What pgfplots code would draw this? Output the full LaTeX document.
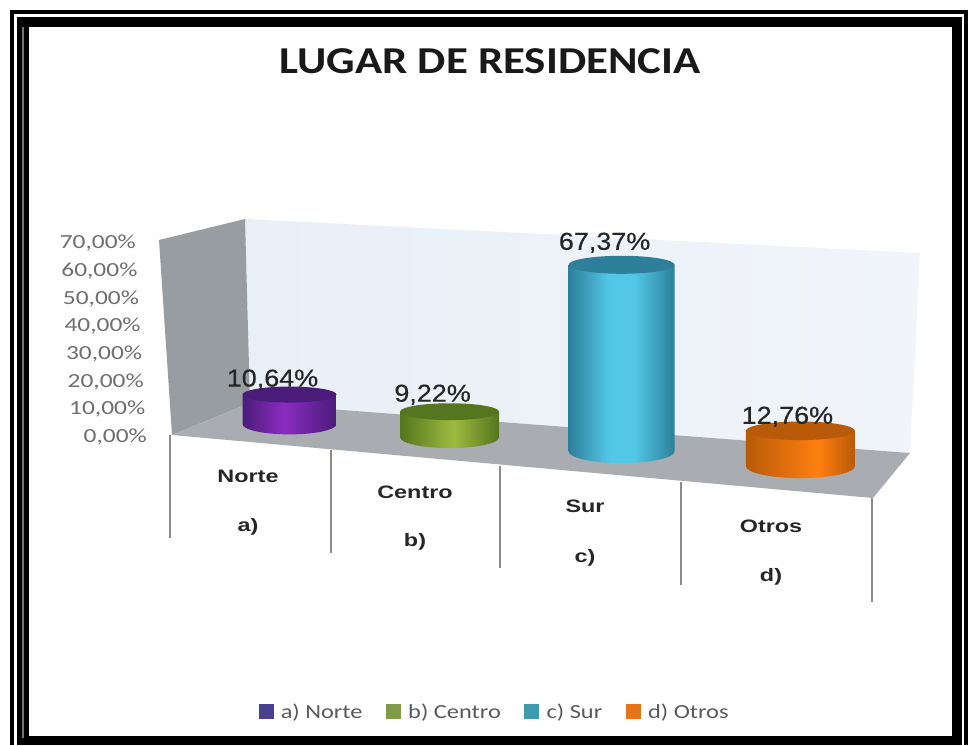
\documentclass[border=0pt]{standalone}
\usepackage{pgfplots}
\pgfplotsset{compat=1.18}
\usepackage{fontspec}
\setmainfont{Liberation Sans}
\newfontfamily\titlefont[FakeStretch=1.18]{Carlito}
\newfontfamily\tickfont[FakeStretch=1.27]{Carlito}
\newfontfamily\legfont[FakeStretch=1.22]{Carlito}
\newfontfamily\catfont[FakeStretch=1.3]{Liberation Sans}
\newfontfamily\valfont[FakeStretch=1.1, FakeBold=0.4]{Liberation Sans}

\definecolor{wallside}{HTML}{989DA1}
\definecolor{wallback}{HTML}{E9EFF7}
\definecolor{wallbackR}{HTML}{F1F5FA}
\definecolor{floorgrey}{HTML}{A9ADB2}
\definecolor{linegrey}{HTML}{8C8C8C}
\definecolor{tickgrey}{HTML}{6E6E6E}
\definecolor{legtext}{HTML}{5A5A5A}

\definecolor{leg1}{HTML}{4B3F90}
\definecolor{leg2}{HTML}{7F9A49}
\definecolor{leg3}{HTML}{3F9AAE}
\definecolor{leg4}{HTML}{E8731A}

\definecolor{purpD}{HTML}{4B1C7A}
\definecolor{purpM}{HTML}{8A2CC0}
\definecolor{greenD}{HTML}{55751F}
\definecolor{greenM}{HTML}{9DBB3E}
\definecolor{blueD}{HTML}{2D7F9A}
\definecolor{blueM}{HTML}{52C7E6}
\definecolor{oranD}{HTML}{B85A08}
\definecolor{oranM}{HTML}{FF7F10}

\pgfdeclarehorizontalshading{purpS}{100bp}{color(0bp)=(purpD); color(25bp)=(purpD); color(47bp)=(purpM); color(75bp)=(purpD); color(100bp)=(purpD)}
\pgfdeclarehorizontalshading{greenS}{100bp}{color(0bp)=(greenD); color(25bp)=(greenD); color(52bp)=(greenM); color(75bp)=(greenD); color(100bp)=(greenD)}
\pgfdeclarehorizontalshading{blueS}{100bp}{color(0bp)=(blueD); color(25bp)=(blueD); color(44bp)=(blueM); color(56bp)=(blueM); color(75bp)=(blueD); color(100bp)=(blueD)}
\pgfdeclarehorizontalshading{oranS}{100bp}{color(0bp)=(oranD); color(25bp)=(oranD); color(58bp)=(oranM); color(75bp)=(oranD); color(100bp)=(oranD)}

% flat top of a cylinder, mark size = half its width
\pgfdeclareplotmark{cap}{%
  \pgfpathellipse{\pgfpointorigin}{\pgfqpoint{\pgfplotmarksize}{0pt}}{\pgfqpoint{0pt}{0.17\pgfplotmarksize}}%
  \pgfusepathqfill}
% body of a cylinder, hanging from the data point down to the floor
\newcommand{\bodymark}[2]{%
  \pgfdeclareplotmark{#1}{%
    \pgfpathmoveto{\pgfqpoint{-\pgfplotmarksize}{0pt}}%
    \pgfpathlineto{\pgfpoint{-\pgfplotmarksize}{-\barh pt}}%
    \pgfpatharc{180}{360}{\pgfplotmarksize and 0.22\pgfplotmarksize}%
    \pgfpathlineto{\pgfqpoint{\pgfplotmarksize}{0pt}}%
    \pgfpathclose
    \pgfshadepath{#2}{0}%
    \pgfusepath{discard}}}
\bodymark{bodyA}{purpS}
\bodymark{bodyB}{greenS}
\bodymark{bodyC}{blueS}
\bodymark{bodyD}{oranS}

\pgfplotstableread{
x y
1.00 10.64
}\norte
\pgfplotstableread{
x y
1.94 9.22
}\centro
\pgfplotstableread{
x y
2.95 67.37
}\sur
\pgfplotstableread{
x y
4.00 12.76
}\otros

\pgfplotsset{
  body/.style={
    scatter, only marks, mark=#1,
    scatter/@pre marker code/.code={},
    scatter/@post marker code/.code={},
    visualization depends on={2.77*\thisrow{y} \as \barh},
  },
  valuelabels/.style 2 args={
    nodes near coords={\pgfmathprintnumber[fixed, fixed zerofill, precision=2, use comma, assume math mode=true]{\pgfplotspointmeta}\%},
    point meta=y,
    every node near coord/.style={anchor=center, xshift=#1pt, yshift=#2pt,
      font=\valfont\fontsize{24.5}{24}\selectfont, text=black!85},
  },
}

\begin{document}
\begin{tikzpicture}[x=1pt, y=-1pt]
\path[use as bounding box] (0,0) rectangle (969,745);
\fill[white] (0,0) rectangle (969,745);

% frame
\fill[black] (10,10) rectangle (968,745);
\fill[white] (14,14) rectangle (964,17);
\fill[white] (14,14) rectangle (17,745);
\fill[white] (962,14) rectangle (964,745);
\fill[black!55] (22,27) rectangle (24,738);
\fill[white] (29,27) rectangle (952,736);

% walls and floor
\shade[left color=wallback, right color=wallbackR] (245,219) -- (920,253) -- (910,453) -- (250,403) -- cycle;
\fill[wallside] (159,240) -- (245,219) -- (250,403) -- (172,435) -- cycle;
\fill[floorgrey] (172,435) -- (250,403) -- (910,453) -- (873,498) -- cycle;

% category separators
\draw[linegrey, line width=1.2pt]
  (170,435) -- (170,538)
  (331,450) -- (331,553)
  (500,466) -- (500,568)
  (681,482) -- (681,585)
  (872,498) -- (872,602);

\node[font=\titlefont\bfseries\fontsize{38}{38}\selectfont, text=black!90] at (490,61) {LUGAR DE RESIDENCIA};

\foreach \px/\py/\t in {248/476/Norte, 248/527/a), 415/492/Centro, 415/542/b), 585/506/Sur, 585/558/c), 771/526/Otros, 771/577/d)}
  \node[font=\catfont\bfseries\fontsize{18}{18}\selectfont, text=black!85] at (\px,\py) {\t};

% value axis and legend
\begin{axis}[
  at={(147pt,-437pt)}, anchor=origin,
  x={(1pt,0pt)}, y={(-0.157pt,2.77pt)},
  xmin=0, xmax=800, ymin=0, ymax=70,
  axis x line=none, axis y line*=left,
  axis line style={draw=none},
  major tick length=0pt,
  ytick={0,10,...,70},
  scaled y ticks=false,
  yticklabel={\pgfmathprintnumber[fixed, fixed zerofill, precision=2, use comma, assume math mode=true]{\tick}\%},
  y tick label style={font=\tickfont\fontsize{20}{20}\selectfont, text=tickgrey, inner sep=0pt},
  clip=false,
  legend columns=4,
  legend cell align=left,
  legend style={at={(axis cs:332,-99.3)}, anchor=center, draw=none, fill=none,
    font=\legfont\fontsize{20}{20}\selectfont, text=legtext,
    /tikz/every even column/.append style={column sep=21.5pt}},
  legend image code/.code={\fill[draw=none,#1] (0pt,-7pt) rectangle (15pt,8pt); \path (20pt,0pt);},
]
\addlegendimage{fill=leg1}
\addlegendentry{a) Norte}
\addlegendimage{fill=leg2}
\addlegendentry{b) Centro}
\addlegendimage{fill=leg3}
\addlegendentry{c) Sur}
\addlegendimage{fill=leg4}
\addlegendentry{d) Otros}
\end{axis}

% cylinders on the sloping floor
\begin{axis}[
  at={(119.2pt,-410pt)}, anchor=origin,
  x={(170.3pt,-14.03pt)}, y={(0pt,2.77pt)},
  xmin=0, xmax=4.5, ymin=0, ymax=70,
  hide axis, clip=false,
]
\addplot[body=bodyA, mark size=47pt] table {\norte};
\addplot[only marks, mark=cap, mark size=47pt, color=purpD, valuelabels={-17}{15}] table {\norte};

\addplot[body=bodyB, mark size=49.5pt] table {\centro};
\addplot[only marks, mark=cap, mark size=49.5pt, color=greenD, valuelabels={-17}{17}] table {\centro};

\addplot[body=bodyC, mark size=53pt] table {\sur};
\addplot[only marks, mark=cap, mark size=53pt, color=blueD, valuelabels={-17}{22}] table {\sur};

\addplot[body=bodyD, mark size=54.5pt] table {\otros};
\addplot[only marks, mark=cap, mark size=54.5pt, color=oranD, valuelabels={-13}{14}] table {\otros};
\end{axis}
\end{tikzpicture}
\end{document}
